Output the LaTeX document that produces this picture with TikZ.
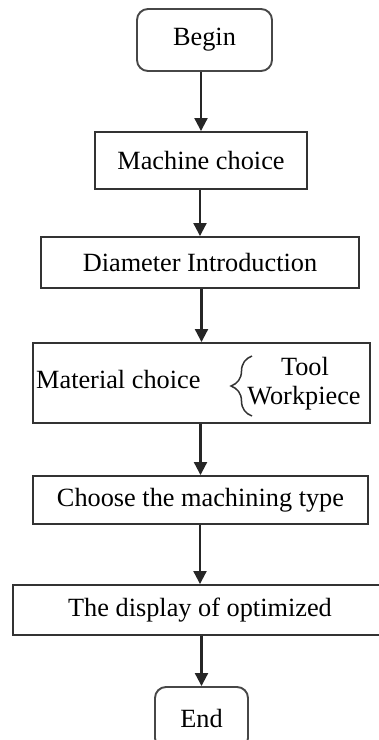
\documentclass[tikz,border=0pt]{standalone}
\usepackage{fontspec}
\setmainfont{Liberation Serif}
\usetikzlibrary{arrows.meta,decorations.pathreplacing}
\begin{document}
\begin{tikzpicture}[x=1pt,y=-1pt,
  every node/.style={font=\fontsize{26.3}{29}\selectfont, inner sep=0pt},
  stepbox/.style={draw=black!80, line width=1.9pt, minimum width=#1},
  termbox/.style={draw=black!72, line width=1.9pt, rounded corners=11pt},
  arr/.style={draw=black!85, line width=2.1pt, -{Triangle[width=13pt,length=13pt]}}]
  \useasboundingbox (0,0) rectangle (379,740);

  % terminals and process steps, top to bottom
  \node[termbox, minimum width=135pt, minimum height=62pt] (begin) at (204.5,40) {Begin};
  \node[stepbox=212pt, minimum height=57pt] (machine) at (201,160.5) {Machine choice};
  \node[stepbox=318pt, minimum height=51pt] (diam) at (200,262.5) {Diameter Introduction};
  \node[stepbox=337pt, minimum height=80pt] (mat) at (201.5,383) {};
  \node[stepbox=335pt, minimum height=48pt] (choose) at (200.5,500) {Choose the machining type};
  \node[stepbox=374pt, minimum height=50pt] (display) at (200,610) {The display of optimized};
  \node[termbox, minimum width=93pt, minimum height=62pt] (end) at (201.5,718) {End};

  % contents of the material step
  \node[anchor=west] (mattext) at (36,379) {Material choice};
  \node (tool) at (305,366) {Tool};
  \node (work) at (304,398) {Workpiece};
  \draw[black!80, line width=1.5pt, decorate, decoration={brace, amplitude=21pt, aspect=0.5}]
    (252,416) -- (252,356);

  % connectors
  \draw[arr] (begin.south -| machine.north) -- (machine.north);
  \draw[arr] (machine.south -| diam.north) -- (diam.north);
  \draw[arr] (diam.south -| mat.north) -- (mat.north);
  \draw[arr] (mat.south -| choose.north) -- (choose.north);
  \draw[arr] (choose.south -| display.north) -- (display.north);
  \draw[arr] (display.south -| end.north) -- (end.north);
\end{tikzpicture}
\end{document}
